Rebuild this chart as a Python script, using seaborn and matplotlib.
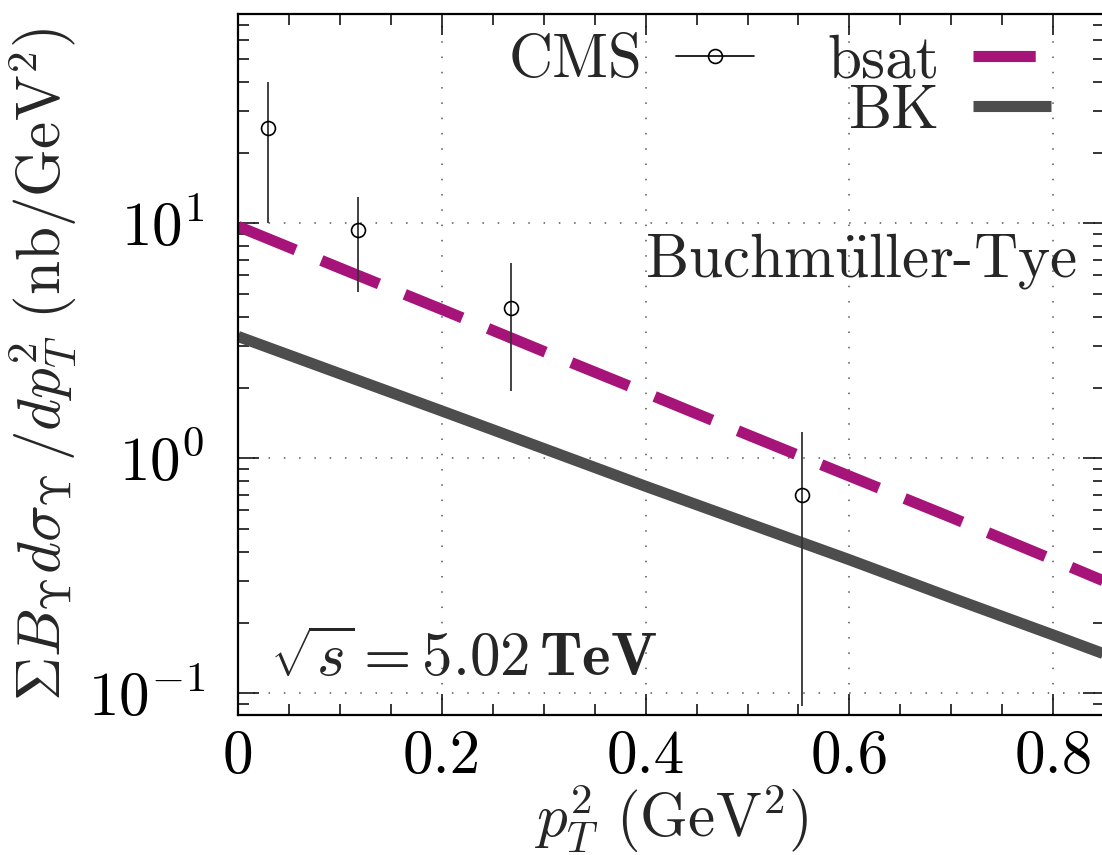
import numpy as np
import pandas as pd
import matplotlib.pyplot as plt
import seaborn as sns
from matplotlib.lines import Line2D
from matplotlib.ticker import MultipleLocator, LogLocator, NullFormatter

# CMS data points
cms_pt2 = [0.029, 0.118, 0.268, 0.553]
cms_val = [25.4, 9.4, 4.35, 0.70]
cms_lo = [10.0, 5.1, 1.93, 0.088]
cms_hi = [40.0, 13.0, 6.76, 1.30]

# model curves
pt2_grid = [0.0, 0.1, 0.2, 0.3, 0.4, 0.5, 0.6, 0.7, 0.8, 0.85]
bsat_val = [9.7, 6.45, 4.3, 2.85, 1.9, 1.26, 0.84, 0.56, 0.37, 0.30]
bk_val = [3.3, 2.29, 1.59, 1.10, 0.76, 0.53, 0.37, 0.255, 0.177, 0.147]

sns.set_style("ticks")
plt.rcParams["font.family"] = "serif"
plt.rcParams["font.serif"] = ["cmr10"]
plt.rcParams["mathtext.fontset"] = "cm"
plt.rcParams["axes.formatter.use_mathtext"] = True
plt.rcParams["axes.unicode_minus"] = True

fs = 44
bsat_col = "#a6147a"
bk_col = "#4d4d4d"
dash = (0, (5.6, 2.5))

fig = plt.figure(figsize=(11.02, 8.55), dpi=100)
ax = fig.add_axes([0.216, 0.164, 0.786, 0.820])

df = pd.DataFrame({"pt2": pt2_grid, "bsat": bsat_val, "bk": bk_val})
sns.lineplot(data=df, x="pt2", y="bk", ax=ax, color=bk_col, lw=8,
             solid_capstyle="butt")
sns.lineplot(data=df, x="pt2", y="bsat", ax=ax, color=bsat_col, lw=8,
             linestyle=dash)

cms = np.array(cms_val)
yerr = [cms - np.array(cms_lo), np.array(cms_hi) - cms]
ax.errorbar(cms_pt2, cms_val, yerr=yerr, fmt="o", mfc="none", mec="black",
            ms=10, mew=1.2, ecolor="#333333", elinewidth=1.3, capsize=0,
            zorder=5)

ax.set_yscale("log")
ax.set_xlim(0, 0.85)
ax.set_ylim(0.081, 78)

ax.xaxis.set_minor_locator(MultipleLocator(0.05))
ax.set_xticks([0, 0.2, 0.4, 0.6, 0.8])
ax.set_xticklabels(["0", "0.2", "0.4", "0.6", "0.8"])
ax.yaxis.set_major_locator(LogLocator(base=10, numticks=10))
ax.yaxis.set_minor_locator(LogLocator(base=10, subs=np.arange(2, 10), numticks=20))
ax.yaxis.set_minor_formatter(NullFormatter())

ax.tick_params(which="both", direction="in", top=True, right=True,
               labelsize=fs, width=1.1, colors="black")
ax.tick_params(which="major", length=15)
ax.tick_params(which="minor", length=8)
ax.tick_params(axis="x", pad=11)
ax.tick_params(axis="y", pad=24)

ax.grid(True, which="major", color="#555555", lw=1.1, linestyle=(0, (1, 9)))
for s in ax.spines.values():
    s.set_linewidth(1.6)
    s.set_color("black")

ax.set_xlabel(r"$p_T^2$ (GeV$^2$)", fontsize=fs, labelpad=-2)
ax.set_ylabel(r"$\Sigma B_{\Upsilon} d\sigma_{\Upsilon}\,/dp_T^2$ (nb/GeV$^2$)",
              fontsize=fs, labelpad=6)

ax.text(0.969, 0.647, r"Buchm$\ddot{\mathrm{u}}$ller-Tye", transform=ax.transAxes,
        ha="right", va="center", fontsize=fs)
ax.text(0.037, 0.079, r"$\sqrt{s} = 5.02\,\mathbf{TeV}$", transform=ax.transAxes,
        ha="left", va="center", fontsize=fs)

handles = [
    Line2D([], [], color="black", lw=1.2, marker="o", mfc="none", ms=10, mew=1.2),
    Line2D([], [], linestyle="none"),
    Line2D([], [], color=bsat_col, lw=8, linestyle=dash),
    Line2D([], [], color=bk_col, lw=8, solid_capstyle="butt"),
]
labels = ["CMS", "", "bsat", "BK"]
ax.legend(handles, labels, ncol=2, markerfirst=False, frameon=False,
          fontsize=fs, handlelength=1.28, handletextpad=0.55, columnspacing=1.2,
          labelspacing=-0.08, loc="upper right", bbox_to_anchor=(0.967, 1.006),
          borderaxespad=0)

fig.savefig("out.png", dpi=100)
